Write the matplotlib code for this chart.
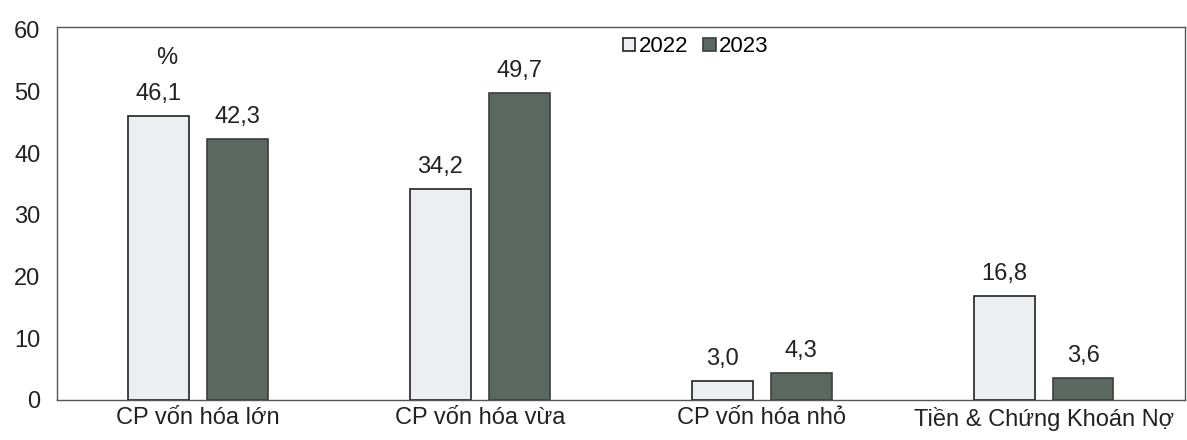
import matplotlib.pyplot as plt
import numpy as np

plt.rcParams['font.family'] = ['Liberation Sans', 'DejaVu Sans']

categories = ["CP vốn hóa lớn", "CP vốn hóa vừa", "CP vốn hóa nhỏ", "Tiền & Chứng Khoán Nợ"]
v2022 = [46.1, 34.2, 3.0, 16.8]
v2023 = [42.3, 49.7, 4.3, 3.6]
labels2022 = ["46,1", "34,2", "3,0", "16,8"]
labels2023 = ["42,3", "49,7", "4,3", "3,6"]
yticks = [0, 10, 20, 30, 40, 50, 60]

fig = plt.figure(figsize=(11.87, 4.4), dpi=100)
ax = fig.add_axes([0.048, 0.091, 0.950, 0.848])

x = np.arange(len(categories))
w = 0.215
off = 0.14
b1 = ax.bar(x - off, v2022, w, color="#eceef1", edgecolor="#222222", linewidth=1.2, label="2022")
b2 = ax.bar(x + off, v2023, w, color="#5b6761", edgecolor="#3a3f3c", linewidth=1.2, label="2023")

for bars, labs in ((b1, labels2022), (b2, labels2023)):
    for r, t in zip(bars, labs):
        ax.annotate(t, (r.get_x() + r.get_width() / 2, r.get_height()),
                    xytext=(0, 8), textcoords="offset points",
                    ha="center", va="bottom", fontsize=17, color="#222222")

ax.text(-0.11, 55.5, "%", ha="center", va="center", fontsize=17, color="#222222")

ax.set_xlim(-0.5, 3.5)
ax.set_ylim(0, 60.5)
ax.set_yticks(yticks)
ax.set_xticks(x)
ax.set_xticklabels(categories)
ax.tick_params(axis="both", length=0, labelsize=17, colors="#222222")
ax.tick_params(axis="y", pad=12)
ax.tick_params(axis="x", pad=5)
for s in ax.spines.values():
    s.set_color("#555555")
    s.set_linewidth(1.0)

ax.legend(loc="upper left", bbox_to_anchor=(0.49, 1.01), ncol=2, frameon=False,
          handlelength=0.55, handleheight=0.55, handletextpad=0.15, columnspacing=0.7,
          fontsize=16, borderaxespad=0.2)

fig.savefig("out.png", dpi=100, facecolor="white")
